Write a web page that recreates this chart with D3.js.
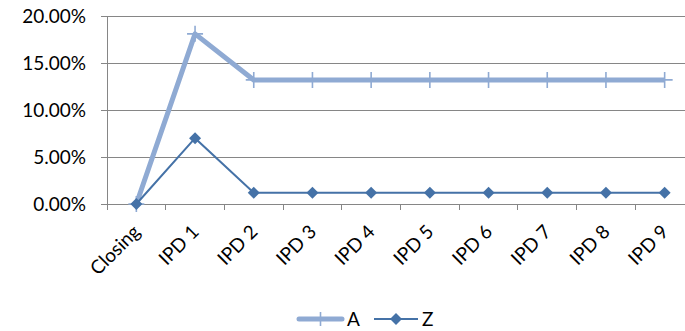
<!DOCTYPE html>
<html>
<head>
<meta charset="utf-8">
<script src="https://cdn.jsdelivr.net/npm/d3@7"></script>
<style>
  html, body { margin: 0; padding: 0; background: #fff; }
  svg { display: block; font-family: Lato, "Open Sans", sans-serif; }
</style>
</head>
<body>
<svg id="chart" width="685" height="331"></svg>
<script>
// Periods along the x axis
const categories = ["Closing", "IPD 1", "IPD 2", "IPD 3", "IPD 4", "IPD 5", "IPD 6", "IPD 7", "IPD 8", "IPD 9"];
// Series values (fractions)
const seriesA = [0, 0.181, 0.132, 0.132, 0.132, 0.132, 0.132, 0.132, 0.132, 0.132];
const seriesZ = [0, 0.070, 0.012, 0.012, 0.012, 0.012, 0.012, 0.012, 0.012, 0.012];
const yTicks = [0, 0.05, 0.10, 0.15, 0.20];

const svg = d3.select("#chart");
const plotLeft = 107, plotRight = 694, plotTop = 16, plotBottom = 204;
const fontSize = 19;

const x = d3.scaleBand().domain(categories).range([plotLeft, plotRight]).paddingInner(0).paddingOuter(0);
const y = d3.scaleLinear().domain([0, 0.20]).range([plotBottom, plotTop]);
const cx = d => x(d) + x.bandwidth() / 2;

const gridColor = "#868686";

// Horizontal gridlines
svg.append("g")
  .selectAll("line")
  .data(yTicks)
  .join("line")
  .attr("x1", plotLeft).attr("x2", plotRight)
  .attr("y1", d => y(d)).attr("y2", d => y(d))
  .attr("stroke", gridColor).attr("stroke-width", 1)
  .attr("shape-rendering", "crispEdges");

// Y axis
const yAxis = svg.append("g")
  .attr("transform", `translate(${plotLeft},0)`)
  .call(d3.axisLeft(y).tickValues(yTicks).tickFormat(d3.format(".2%")).tickSize(6).tickPadding(15));
yAxis.select(".domain").attr("stroke", gridColor).attr("shape-rendering", "crispEdges");
yAxis.selectAll(".tick line").attr("stroke", gridColor).attr("shape-rendering", "crispEdges");
yAxis.selectAll("text").attr("font-size", fontSize).attr("fill", "#000").attr("font-family", "Lato, sans-serif");

// X axis with boundary ticks between categories
const xg = svg.append("g");
xg.append("line")
  .attr("x1", plotLeft).attr("x2", plotRight).attr("y1", plotBottom).attr("y2", plotBottom)
  .attr("stroke", gridColor).attr("shape-rendering", "crispEdges");
xg.selectAll("line.tk")
  .data(categories)
  .join("line")
  .attr("class", "tk")
  .attr("x1", d => x(d)).attr("x2", d => x(d))
  .attr("y1", plotBottom).attr("y2", plotBottom + 6)
  .attr("stroke", gridColor).attr("shape-rendering", "crispEdges");
xg.selectAll("text")
  .data(categories)
  .join("text")
  .attr("transform", d => `translate(${cx(d) + 5},${plotBottom + 29}) rotate(-45)`)
  .attr("text-anchor", "end")
  .attr("font-size", fontSize)
  .attr("fill", "#000")
  .text(d => d);

const line = d3.line().x((d, i) => cx(categories[i])).y(d => y(d));

const colorA = "#8FAAD3";
const colorZ = "#4572A7";

// Series A: thick light line with cross markers
svg.append("path")
  .datum(seriesA)
  .attr("d", line)
  .attr("fill", "none")
  .attr("stroke", colorA)
  .attr("stroke-width", 5)
  .attr("stroke-linejoin", "round");
svg.append("g")
  .selectAll("path")
  .data(seriesA)
  .join("path")
  .attr("transform", (d, i) => `translate(${cx(categories[i])},${y(d)})`)
  .attr("d", "M-8,0H8M0,-8V8")
  .attr("stroke", colorA)
  .attr("stroke-width", 1.6)
  .attr("fill", "none");

// Series Z: thin dark line with diamond markers
svg.append("path")
  .datum(seriesZ)
  .attr("d", line)
  .attr("fill", "none")
  .attr("stroke", colorZ)
  .attr("stroke-width", 2);
svg.append("g")
  .selectAll("path")
  .data(seriesZ)
  .join("path")
  .attr("transform", (d, i) => `translate(${cx(categories[i])},${y(d)})`)
  .attr("d", "M0,-6L6,0L0,6L-6,0Z")
  .attr("fill", colorZ);

// Legend
const legend = svg.append("g").attr("transform", "translate(0,319)");
legend.append("line").attr("x1", 299).attr("x2", 342).attr("y1", 0).attr("y2", 0)
  .attr("stroke", colorA).attr("stroke-width", 5).attr("stroke-linecap", "round");
legend.append("path").attr("d", "M320.5,-7V7").attr("stroke", colorA).attr("stroke-width", 1.6);
legend.append("text").attr("x", 347).attr("y", 0).attr("dy", "0.36em")
  .attr("font-size", fontSize).attr("fill", "#000").text("A");
legend.append("line").attr("x1", 374).attr("x2", 418).attr("y1", 0).attr("y2", 0)
  .attr("stroke", colorZ).attr("stroke-width", 2);
legend.append("path").attr("d", "M396,-6L402,0L396,6L390,0Z").attr("fill", colorZ);
legend.append("text").attr("x", 422).attr("y", 0).attr("dy", "0.36em")
  .attr("font-size", fontSize).attr("fill", "#000").text("Z");
</script>
</body>
</html>
